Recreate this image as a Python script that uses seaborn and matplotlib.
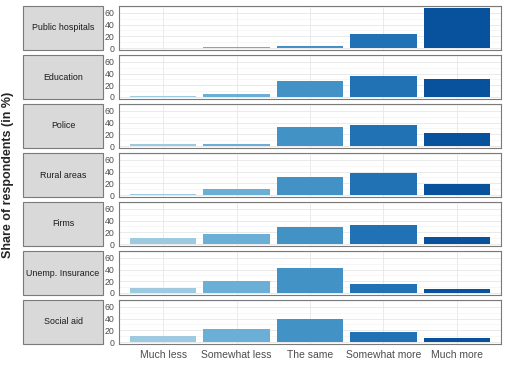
import matplotlib
matplotlib.use('Agg')
import matplotlib.pyplot as plt
import seaborn as sns
from matplotlib.patches import Rectangle

# answer categories (x axis) and one row of shares per sector (in %)
categories = ['Much less', 'Somewhat less', 'The same', 'Somewhat more', 'Much more']
sectors = ['Public hospitals', 'Education', 'Police', 'Rural areas', 'Firms',
           'Unemp. Insurance', 'Social aid']
public_hospitals = [0.5, 1.5, 3, 24.5, 68.5]
education = [1, 5.5, 27, 35.5, 31]
police = [3, 4, 32, 36, 22]
rural_areas = [2, 10, 30, 37, 18]
firms = [9.5, 16.5, 28.5, 32.5, 12.5]
unemp_insurance = [8.5, 20.5, 42, 16, 7]
social_aid = [11, 22.5, 40, 16.5, 7]
shares = [public_hospitals, education, police, rural_areas, firms,
          unemp_insurance, social_aid]

colors = ['#9ecae1', '#6baed6', '#4292c6', '#2171b5', '#08519c']

sns.set_style('white')
plt.rcParams['font.family'] = ['Liberation Sans', 'DejaVu Sans']

W, H = 508, 366
fig = plt.figure(figsize=(W / 100, H / 100), dpi=100)

ymax = max(max(s) for s in shares)
pad = ymax * 0.05
border = '#7a7a7a'

for i, (name, vals) in enumerate(zip(sectors, shares)):
    top = 6 + 49 * i  # pixel position of panel top
    ax = fig.add_axes([119 / W, 1 - (top + 44) / H, 382 / W, 44 / H])
    ax.set_axisbelow(True)
    sns.barplot(x=categories, y=vals, hue=categories, order=categories,
                palette=colors, saturation=1, legend=False, width=0.9,
                linewidth=0, ax=ax)
    ax.set_xlim(-0.6, 4.6)
    ax.set_ylim(-pad, ymax + pad)
    ax.set_yticks([0, 20, 40, 60])
    ax.set_yticks([10, 30, 50, 70], minor=True)
    ax.grid(True, which='major', color='#e6e6e6', linewidth=0.6)
    ax.grid(True, which='minor', axis='y', color='#f0f0f0', linewidth=0.4)
    ax.set_xlabel('')
    ax.set_ylabel('')
    for sp in ax.spines.values():
        sp.set_color(border)
        sp.set_linewidth(0.8)
    ax.tick_params(axis='y', which='major', labelsize=6.3, colors='#4d4d4d',
                   length=2.5, width=0.5, pad=1)
    ax.tick_params(axis='y', which='minor', length=0)
    if i < len(sectors) - 1:
        ax.tick_params(axis='x', length=0, labelbottom=False)
    else:
        ax.tick_params(axis='x', labelsize=7.5, colors='#4d4d4d',
                       length=2.5, width=0.5, pad=1.5)

    # strip box on the left
    sx = fig.add_axes([23 / W, 1 - (top + 44) / H, 80 / W, 44 / H])
    sx.set_axis_off()
    sx.add_patch(Rectangle((0, 0), 1, 1, transform=sx.transAxes,
                           facecolor='#d9d9d9', edgecolor=border,
                           linewidth=0.8, clip_on=False))
    sx.text(0.5, 0.5, name, ha='center', va='center', fontsize=6.4,
            color='#1a1a1a', transform=sx.transAxes)

fig.text(8 / W, 1 - 175 / H, 'Share of respondents (in %)', rotation=90,
         ha='center', va='center', fontsize=9, fontweight='bold')

fig.savefig('out.png', dpi=100)
